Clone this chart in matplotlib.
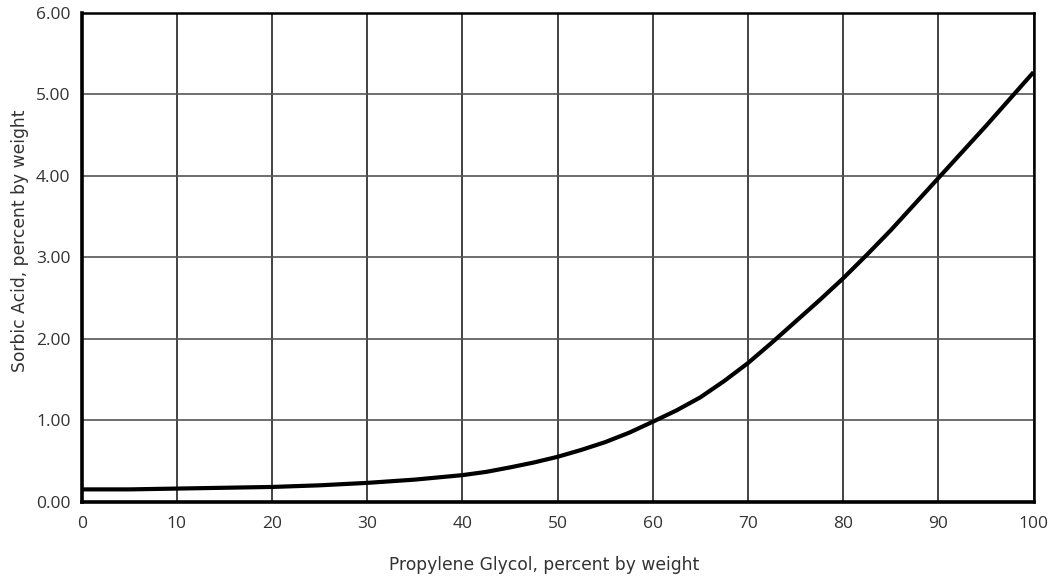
import numpy as np
import matplotlib
matplotlib.use("Agg")
import matplotlib.pyplot as plt

# values
glycol = [0, 5, 10, 15, 20, 25, 30, 35, 40, 42.5, 45, 47.5, 50, 52.5, 55, 57.5, 60,
          62.5, 65, 67.5, 70, 72.5, 75, 77.5, 80, 82.5, 85, 87.5, 90, 92.5, 95, 97.5, 100]
sorbic = [0.15, 0.15, 0.16, 0.17, 0.18, 0.20, 0.23, 0.27, 0.325, 0.365, 0.42, 0.48, 0.55,
          0.635, 0.73, 0.845, 0.98, 1.12, 1.28, 1.48, 1.70, 1.95, 2.21, 2.47, 2.74, 3.03,
          3.33, 3.65, 3.97, 4.29, 4.61, 4.94, 5.27]

x_ticks = np.arange(0, 101, 10)
y_ticks = np.arange(0, 6.01, 1)

fig = plt.figure(figsize=(10.56, 5.83), dpi=100)
ax = fig.add_axes([0.0774, 0.1389, 0.9013, 0.8393])

ax.plot(glycol, sorbic, color="black", lw=3.0, solid_joinstyle="round",
        solid_capstyle="butt", zorder=3)

ax.set_xlim(0, 100)
ax.set_ylim(-0.005, 6)
ax.set_xticks(x_ticks)
ax.set_yticks(y_ticks)
ax.set_xticklabels([str(int(v)) for v in x_ticks], fontfamily="Open Sans", fontsize=12.5, color="#333333")
ax.set_yticklabels(["%.2f" % v for v in y_ticks], fontfamily="Open Sans", fontsize=12.5, color="#333333")
ax.tick_params(axis="both", length=0)
ax.tick_params(axis="x", pad=10)
ax.tick_params(axis="y", pad=8)

ax.grid(True, axis="x", color="#222222", lw=1.2)
ax.grid(True, axis="y", color="#555555", lw=1.2)
ax.set_axisbelow(True)

for side in ["left", "bottom"]:
    ax.spines[side].set_linewidth(2.6)
for side in ["top", "right"]:
    ax.spines[side].set_linewidth(1.8)

fig.text(0.515, 0.031, "Propylene Glycol, percent by weight", ha="center", va="center",
         fontfamily="DejaVu Sans", fontsize=12.3, color="#333333")
fig.text(0.019, 0.587, "Sorbic Acid, percent by weight", ha="center", va="center", rotation=90,
         fontfamily="DejaVu Sans", fontsize=12.3, color="#333333")

fig.savefig("out.png", dpi=100)
